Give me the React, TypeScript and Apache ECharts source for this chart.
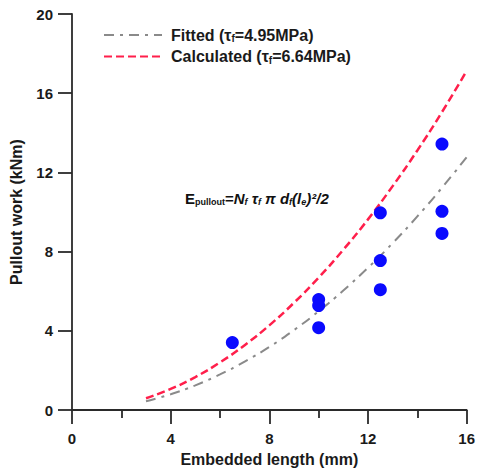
import React, { useEffect, useRef } from "react";
import * as echarts from "echarts";

const xTicks = [0, 4, 8, 12, 16];
const yTicks = [0, 4, 8, 12, 16, 20];

const curveX = [3, 4, 5, 6, 7, 8, 9, 10, 11, 12, 13, 14, 15, 16];
const fittedY = [0.45, 0.8, 1.25, 1.8, 2.45, 3.19, 4.04, 4.99, 6.04, 7.19, 8.43, 9.78, 11.23, 12.77];
const calculatedY = [0.6, 1.07, 1.67, 2.41, 3.28, 4.28, 5.42, 6.69, 8.1, 9.63, 11.31, 13.11, 15.05, 17.13];

const expX = [6.5, 10, 10, 10, 12.5, 12.5, 12.5, 15, 15, 15];
const expY = [3.41, 5.58, 5.28, 4.16, 9.96, 7.55, 6.08, 13.43, 10.04, 8.92];

const FONT = "'Liberation Sans', Arial, sans-serif";

export default function App() {
  const ref = useRef<HTMLDivElement>(null);
  useEffect(() => {
    if (!ref.current) return;
    const chart = echarts.init(ref.current, null, { renderer: "svg" });
    const axisCommon = {
      axisLine: { show: true, onZero: false, lineStyle: { color: "#2a2a2a", width: 1.8 } },
      axisTick: { show: true, inside: false, length: 14, lineStyle: { color: "#2a2a2a", width: 1.8 } },
      splitLine: { show: false },
      nameTextStyle: { color: "#1a1a1a", fontSize: 16, fontWeight: "bold", fontFamily: FONT },
    };
    const rich = {
      n: { fontSize: 16, fontWeight: "bold", fontFamily: FONT, color: "#1a1a1a" },
      s: { fontSize: 10, fontWeight: "bold", fontFamily: FONT, color: "#1a1a1a", verticalAlign: "bottom", padding: [7, 0, 0, 0] },
    };
    chart.setOption({
      animation: false,
      backgroundColor: "#fff",
      grid: { left: 72, right: 8, top: 14, bottom: 59, containLabel: false },
      legend: {
        orient: "vertical",
        left: 98,
        top: 22,
        itemWidth: 58,
        itemHeight: 14,
        itemGap: 5,
        data: ["Fitted", "Calculated"],
        itemStyle: { opacity: 0 },
        formatter: (name: string) =>
          name === "Fitted"
            ? "{n|Fitted (τ}{s|f}{n|=4.95MPa)}"
            : "{n|Calculated (τ}{s|f}{n|=6.64MPa)}",
        textStyle: { padding: [0, 0, 0, 4], rich },
      },
      xAxis: {
        type: "value",
        min: 0,
        max: 16,
        interval: 4,
        name: "Embedded length (mm)",
        nameLocation: "middle",
        nameGap: 37,
        minorTick: { show: true, splitNumber: 2, length: 8, lineStyle: { color: "#2a2a2a", width: 1.8 } },
        axisLabel: { color: "#1a1a1a", fontSize: 15, fontWeight: "bold", fontFamily: FONT, margin: 21 },
        ...axisCommon,
      },
      yAxis: {
        type: "value",
        min: 0,
        max: 20,
        interval: 4,
        name: "Pullout work (kNm)",
        nameLocation: "middle",
        nameGap: 48,
        axisLabel: { color: "#1a1a1a", fontSize: 15, fontWeight: "bold", fontFamily: FONT, margin: 19 },
        ...axisCommon,
      },
      series: [
        {
          name: "Fitted",
          type: "line",
          smooth: true,
          showSymbol: false,
          symbol: "none",
          data: curveX.map((x, i) => [x, fittedY[i]]),
          lineStyle: { color: "#8a8a8a", width: 2, type: [10, 6, 3, 6] },
          itemStyle: { color: "#8a8a8a" },
          z: 2,
        },
        {
          name: "Calculated",
          type: "line",
          smooth: true,
          showSymbol: false,
          symbol: "none",
          data: curveX.map((x, i) => [x, calculatedY[i]]),
          lineStyle: { color: "#ff1f4b", width: 2.5, type: [8, 4] },
          itemStyle: { color: "#ff1f4b" },
          z: 3,
        },
        {
          name: "Experimental",
          type: "scatter",
          symbol: "circle",
          symbolSize: 13,
          data: expX.map((x, i) => [x, expY[i]]),
          itemStyle: { color: "#0a0aff", opacity: 1 },
          z: 4,
        },
      ],
      graphic: [
        {
          type: "text",
          left: 185,
          top: 191,
          style: {
            text:
              "{b|E}{sb|pullout}{b|=}{i|N}{si|f}{i| τ}{si|f}{i| π d}{si|f}{i|(l}{si|e}{i|)²/2}",
            rich: {
              b: { fontSize: 15, fontWeight: "bold", fontFamily: FONT, fill: "#111" },
              sb: { fontSize: 9, fontWeight: "bold", fontFamily: FONT, fill: "#111", verticalAlign: "bottom", padding: [7, 0, 0, 0] },
              i: { fontSize: 15, fontWeight: "bold", fontStyle: "italic", fontFamily: FONT, fill: "#111" },
              si: { fontSize: 9, fontWeight: "bold", fontStyle: "italic", fontFamily: FONT, fill: "#111", verticalAlign: "bottom", padding: [7, 0, 0, 0] },
            },
          },
        },
      ],
    });
    return () => chart.dispose();
  }, []);
  return <div ref={ref} style={{ position: "absolute", left: 0, top: 0, width: 478, height: 472 }} />;
}
